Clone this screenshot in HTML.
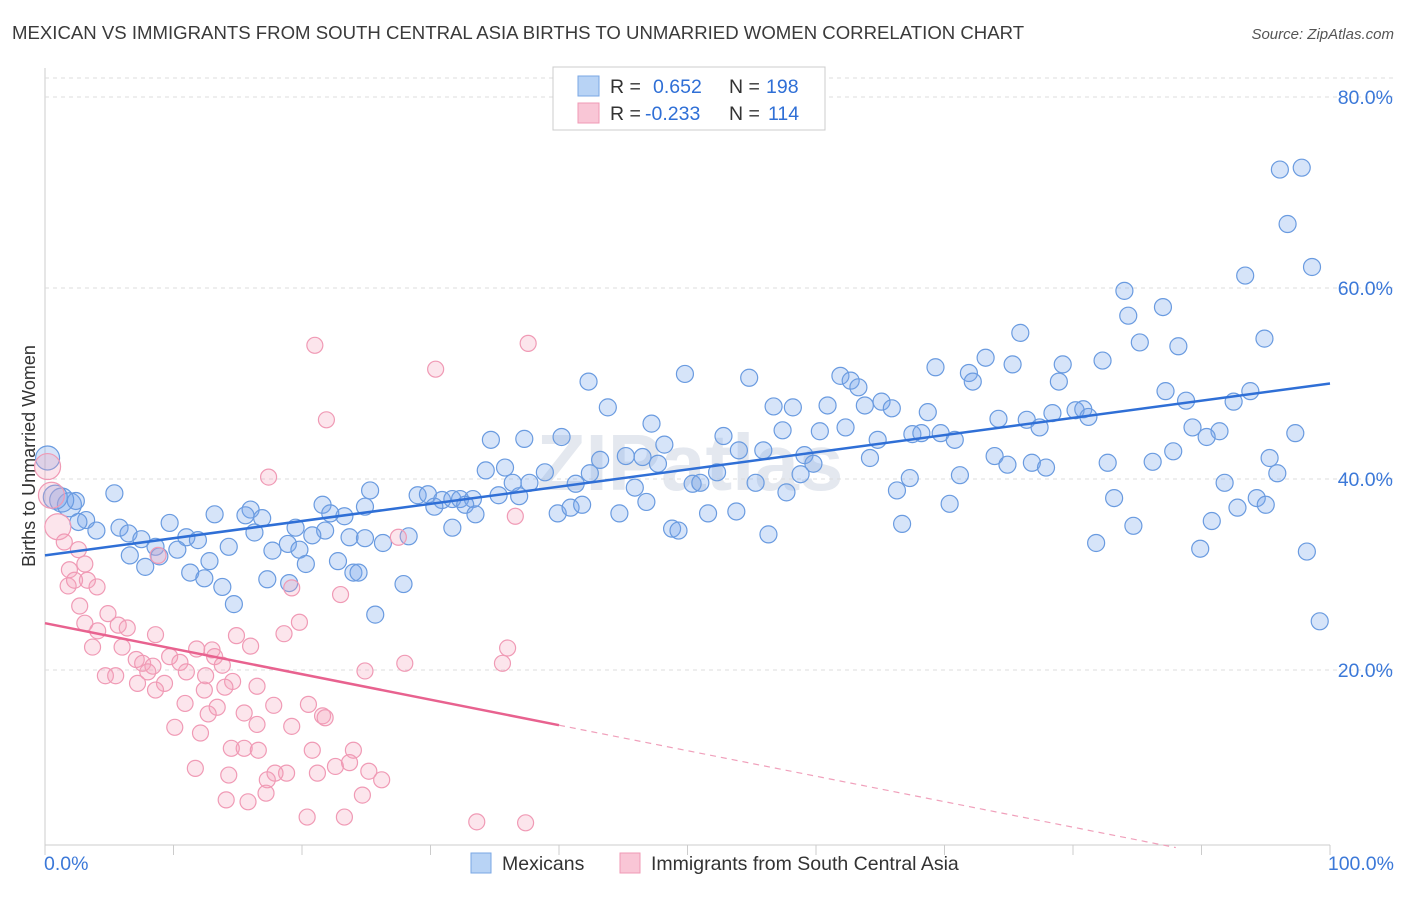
<!DOCTYPE html>
<html><head><meta charset="utf-8"><style>
body{margin:0;background:#fff;font-family:"Liberation Sans",sans-serif;}
svg text{font-family:"Liberation Sans",sans-serif;}
</style></head><body>
<svg id="c" width="1406" height="892">
<text x="12" y="39" font-size="18.6" fill="#3a3a3a">MEXICAN VS IMMIGRANTS FROM SOUTH CENTRAL ASIA BIRTHS TO UNMARRIED WOMEN CORRELATION CHART</text>
<text x="1394" y="39" font-size="15" fill="#555" text-anchor="end" font-style="italic">Source: ZipAtlas.com</text>
<text x="35" y="456" font-size="18" fill="#333" text-anchor="middle" transform="rotate(-90 35 456)">Births to Unmarried Women</text>
<text x="690" y="490" font-size="80" fill="#e4e8ef" text-anchor="middle" font-weight="bold">ZIPatlas</text>
<g id="grid"></g><g id="pts"></g><g id="trend"></g>
<g>
<rect x="553" y="67" width="272" height="63" fill="#fff" stroke="#ccc"/>
<rect x="578" y="76" width="21" height="20" fill="#b8d3f5" stroke="#7aa7e4"/>
<rect x="578" y="103" width="21" height="20" fill="#f9c6d6" stroke="#f09ab5"/>
<text x="610" y="93" font-size="19.5" fill="#333">R = </text><text x="653" y="93" font-size="19.5" fill="#2f6fd6">0.652</text>
<text x="729" y="93" font-size="19.5" fill="#333">N = </text><text x="766" y="93" font-size="19.5" fill="#2f6fd6">198</text>
<text x="610" y="120" font-size="19.5" fill="#333">R = </text><text x="645" y="120" font-size="19.5" fill="#2f6fd6">-0.233</text>
<text x="729" y="120" font-size="19.5" fill="#333">N = </text><text x="768" y="120" font-size="19.5" fill="#2f6fd6">114</text>
</g>
<g>
<rect x="471" y="853" width="20" height="20" fill="#b8d3f5" stroke="#7aa7e4"/>
<text x="502" y="870" font-size="19.5" fill="#333">Mexicans</text>
<rect x="620" y="853" width="20" height="20" fill="#f9c6d6" stroke="#f09ab5"/>
<text x="651" y="870" font-size="19.5" fill="#333">Immigrants from South Central Asia</text>
</g>
<text x="44" y="870" font-size="19.5" fill="#3b78d8">0.0%</text>
<text x="1394" y="870" font-size="19.5" fill="#3b78d8" text-anchor="end">100.0%</text>
</svg>
<script>
const yTicks=[20,40,60,80];
const blueX=[96.1,97.8,96.7,98.6,93.4,84,87,84.3,75.9,85.2,88.2,94.9,73.2,75.3,79.2,82.3,69.3,71.9,72.2,78.9,49.8,54.8,42.3,61.9,62.7,63.3,87.2,88.8,93.8,92.5,65.1,65.9,63.8,60.9,56.7,58.2,43.8,68.7,74.2,76.4,78.4,80.2,80.8,81.2,77.4,89.3,91.4,90.4,97.3,47.2,57.4,60.3,62.3,67.5,68.2,69.7,70.8,64.8,52.8,34.7,37.3,40.2,48.2,54,55.9,59.1,73.9,87.8,95.3,82.7,86.2,74.9,76.8,77.9,43.2,45.2,46.5,47.7,52.3,59.8,64.2,34.3,35.8,38.9,42.4,71.2,95.9,67.3,58.8,50.4,51,55.3,36.4,37.7,41.3,45.9,66.3,91.8,25.3,29,29.8,30.9,31.7,32.3,33.3,35.3,36.9,46.8,57.7,83.2,94.3,5.4,1.9,2.4,24.9,30.3,32.7,39.9,40.9,41.8,70.4,92.8,95,21.6,16,13.2,15.6,16.9,23.3,22.2,33.5,44.7,51.6,53.8,90.8,84.7,66.7,3.2,2.6,9.7,5.8,4.0,6.5,19.5,21.8,23.7,16.3,31.7,48.8,49.3,7.5,8.6,11,11.9,14.3,18.9,20.8,24.9,26.3,28.3,56.3,81.8,89.9,98.2,6.6,8.9,10.3,17.7,19.8,12.8,7.8,20.3,22.8,24,24.4,11.3,12.4,17.3,19,27.9,13.8,14.7,25.7,99.2,0.2,1.3,0.8];
const blueY=[72.4,72.6,66.7,62.2,61.3,59.7,58,57.1,55.3,54.3,53.9,54.7,52.7,52,52,52.4,51.7,51.1,50.2,50.2,51,50.6,50.2,50.8,50.3,49.6,49.2,48.2,49.2,48.1,48.1,47.4,47.7,47.7,47.6,47.5,47.5,47,46.3,46.2,46.9,47.2,47.3,46.5,45.4,45.4,45,44.4,44.8,45.8,45.1,45,45.4,44.7,44.8,44.8,44.1,44.1,44.5,44.1,44.2,44.4,43.6,43,43,42.5,42.4,42.9,42.2,41.7,41.8,41.5,41.7,41.2,42,42.4,42.3,41.6,40.7,41.6,42.2,40.9,41.2,40.7,40.6,40.4,40.6,40.1,40.5,39.5,39.6,39.6,39.6,39.6,39.5,39.1,38.8,39.6,38.8,38.3,38.4,37.8,37.9,37.9,37.9,38.3,38.2,37.6,38.6,38,38,38.5,37.3,37.7,37.1,37.1,37.3,36.4,37,37.3,37.4,37,37.3,37.3,36.8,36.3,36.2,35.9,36.1,36.4,36.3,36.4,36.4,36.6,35.6,35.1,35.3,35.7,35.5,35.4,34.9,34.6,34.3,34.9,34.6,33.9,34.4,34.9,34.8,34.6,33.7,32.9,33.9,33.6,32.9,33.2,34.1,33.8,33.3,34,34.2,33.3,32.7,32.4,32,31.9,32.6,32.5,32.6,31.4,30.8,31.1,31.4,30.2,30.2,30.2,29.6,29.5,29.1,29,28.7,26.9,25.8,25.1,42.2,37.8,38.1];
const pinkX=[21,37.6,30.4,21.9,17.4,0.2,0.5,1,1.5,2.6,8.8,36.6,27.5,1.9,3.1,1.8,3.3,2.3,4.05,19.2,23,2.7,4.9,3.1,5.7,6.4,19.8,18.6,8.6,14.9,4.1,6,3.7,11.8,16,13,36,28,35.6,13.2,7.1,9.7,7.6,10.5,13.8,8.4,4.7,5.5,8,11,24.9,12.5,14.6,7.2,9.3,14,16.5,12.4,8.6,20.5,17.8,10.9,13.4,21.6,21.8,15.5,12.7,10.1,16.5,19.2,14.5,15.5,16.6,12.1,20.8,24,22.6,23.7,25.2,21.2,18.8,17.9,17.3,11.7,26.2,17.2,24.7,14.1,15.8,20.4,23.3,33.6,37.4,14.3];
const pinkY=[54,54.2,51.5,46.2,40.2,41.3,38.3,35,33.4,32.6,32,36.1,33.9,30.5,31.1,28.8,29.4,29.4,28.7,28.6,27.9,26.7,25.9,24.9,24.7,24.4,25,23.8,23.7,23.6,24.1,22.4,22.4,22.2,22.5,22.1,22.3,20.7,20.7,21.4,21.1,21.4,20.7,20.8,20.5,20.4,19.4,19.4,19.8,19.8,19.9,19.4,18.8,18.6,18.6,18.2,18.3,17.9,17.9,16.4,16.3,16.5,16.1,15.2,15,15.5,15.4,14,14.3,14.1,11.8,11.8,11.6,13.4,11.6,11.6,9.9,10.3,9.4,9.2,9.2,9.2,8.5,9.7,8.5,7.1,6.9,6.4,6.2,4.6,4.6,4.1,4,9.0];
const blueTrend=[32.0,50.0];
const pinkTrend=[24.9,-1.8];
const X0=45,X1=1330,Y0=861,PY=9.55,BOT=845;
const sx=v=>X0+(X1-X0)*v/100, sy=v=>Y0-v*PY;
const NS="http://www.w3.org/2000/svg";
function mk(t,a,p){const e=document.createElementNS(NS,t);for(const k in a)e.setAttribute(k,a[k]);p.appendChild(e);return e;}
const grid=document.getElementById('grid');
mk('line',{x1:X0,y1:68,x2:X0,y2:BOT,stroke:'#ccc'},grid);
mk('line',{x1:X0,y1:BOT,x2:X1,y2:BOT,stroke:'#ccc'},grid);
mk('line',{x1:X0,y1:78,x2:1394,y2:78,stroke:'#ddd','stroke-dasharray':'4 4'},grid);
yTicks.forEach(t=>{
 const l=mk('line',{x1:X0,y1:sy(t),x2:1394,y2:sy(t),stroke:'#ddd','stroke-dasharray':'4 4'},grid);
 
 
 const tx=mk('text',{x:1393,y:sy(t)+7,'font-size':19.5,fill:'#3b78d8','text-anchor':'end'},grid);
 tx.textContent=t.toFixed(1)+'%';
 
 
});
for(let i=0;i<=10;i++){const l=mk('line',{x1:sx(i*10),y1:BOT,x2:sx(i*10),y2:855,stroke:'#ccc'},grid);
 
 }
const pts=document.getElementById('pts');
blueX.forEach((x,i)=>{const big=x<2;
 const c=mk('circle',{cx:sx(x),cy:sy(blueY[i]),r:big?12:8.5,fill:'rgba(120,165,235,0.3)',stroke:'#6a9be0','stroke-width':1.2},pts);
 
 });
pinkX.forEach((x,i)=>{const big=x<1.2;
 const c=mk('circle',{cx:sx(x),cy:sy(pinkY[i]),r:big?13:8,fill:'rgba(245,160,185,0.28)',stroke:'#f09ab5','stroke-width':1.2},pts);
 
 });
const tr=document.getElementById('trend');
const bt=mk('line',{x1:sx(0),y1:sy(blueTrend[0]),x2:sx(100),y2:sy(blueTrend[1]),stroke:'#2f6fd6','stroke-width':2.5},tr);


const pAt=x=>pinkTrend[0]+(pinkTrend[1]-pinkTrend[0])*x/100;
const pt=mk('line',{x1:sx(0),y1:sy(pAt(0)),x2:sx(40),y2:sy(pAt(40)),stroke:'#e8628f','stroke-width':2.5},tr);


const pd=mk('line',{x1:sx(40),y1:sy(pAt(40)),x2:sx(88),y2:sy(pAt(88)),stroke:'#f0a0bb','stroke-width':1.2,'stroke-dasharray':'6 5'},tr);


</script>
</body></html>
